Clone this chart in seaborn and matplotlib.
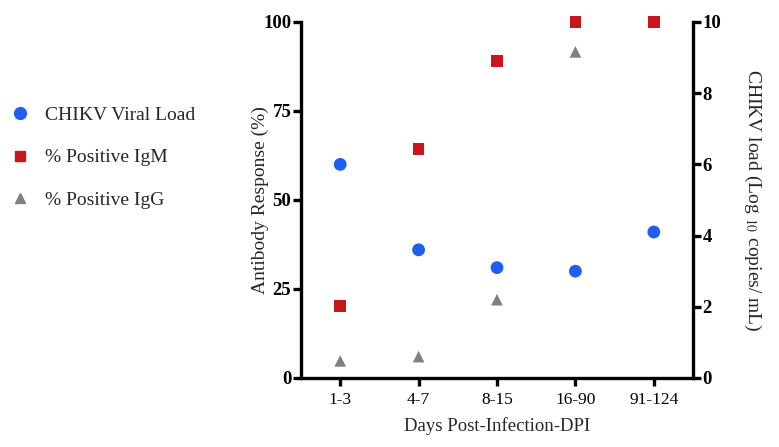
import matplotlib
matplotlib.use("Agg")
import matplotlib.pyplot as plt
from matplotlib.lines import Line2D
import seaborn as sns
import pandas as pd

# values
days = ["1-3", "4-7", "8-15", "16-90", "91-124"]
viral_load = [6.0, 3.6, 3.1, 3.0, 4.1]          # log10 copies/mL (right axis)
igm_pct = [20.3, 64.3, 89.0, 100.0, 100.0]       # % positive IgM (left axis)
igg_pct = [4.8, 6.0, 22.0, 91.6, 100.0]          # % positive IgG (left axis)

BLUE = "#1f5fef"
RED = "#c8161d"
GRAY = "#808080"

sns.set_style("ticks")
plt.rcParams["font.family"] = ["Liberation Serif", "DejaVu Serif"]
plt.rcParams["mathtext.fontset"] = "stix"

df = pd.DataFrame({"days": days, "load": viral_load, "igm": igm_pct, "igg": igg_pct})

fig = plt.figure(figsize=(7.79, 4.47), dpi=100)
ax = fig.add_axes([0.3864, 0.1544, 0.5032, 0.7964])
ax2 = ax.twinx()

# antibody responses on the left scale
sns.scatterplot(data=df, x="days", y="igg", ax=ax, marker="^", s=70,
                color=GRAY, edgecolor="none", zorder=3)
sns.scatterplot(data=df, x="days", y="igm", ax=ax, marker="s", s=70,
                color=RED, edgecolor="none", zorder=4)
# viral load on the right scale
sns.scatterplot(data=df, x="days", y="load", ax=ax2, marker="o", s=85,
                color=BLUE, edgecolor="none", zorder=4)

ax.set_xlim(-0.5, 4.5)
ax.set_ylim(0, 100)
ax2.set_ylim(0, 10)
ax.set_yticks([0, 25, 50, 75, 100])
ax2.set_yticks([0, 2, 4, 6, 8, 10])

for a in (ax, ax2):
    for side in a.spines:
        a.spines[side].set_linewidth(2.4)
        a.spines[side].set_color("black")
    a.spines["top"].set_visible(False)
    a.tick_params(width=2.4, length=6, direction="out", colors="black")
ax.spines["right"].set_visible(False)
ax2.spines["left"].set_visible(False)
ax2.spines["bottom"].set_visible(False)
for coll in ax.collections + ax2.collections:
    coll.set_clip_on(False)

ax.tick_params(axis="x", labelsize=12.5, pad=4)
ax.tick_params(axis="y", labelsize=13.5, pad=1)
ax2.tick_params(axis="y", labelsize=13.5, pad=1)
for lbl in ax.get_yticklabels() + ax2.get_yticklabels():
    lbl.set_fontweight("bold")

ax.set_xlabel("Days Post-Infection-DPI", fontsize=13.5, labelpad=7)
ax.set_ylabel("Antibody Response (%)", fontsize=14, labelpad=-4)
ax2.set_ylabel(r"CHIKV load (Log $_{10}$ copies/ mL)", fontsize=14,
               rotation=270, labelpad=30)

handles = [
    Line2D([], [], marker="o", linestyle="none", color=BLUE, markersize=8.5),
    Line2D([], [], marker="s", linestyle="none", color=RED, markersize=7.5),
    Line2D([], [], marker="^", linestyle="none", color=GRAY, markersize=7.5),
]
labels = ["CHIKV Viral Load", "% Positive IgM", "% Positive IgG"]
fig.legend(handles, labels, loc="upper left", bbox_to_anchor=(0.013, 0.762),
           borderaxespad=0, borderpad=0, frameon=False, fontsize=14,
           labelspacing=1.28, handletextpad=0.8, handlelength=1.0)

fig.savefig("out.png", dpi=100)
